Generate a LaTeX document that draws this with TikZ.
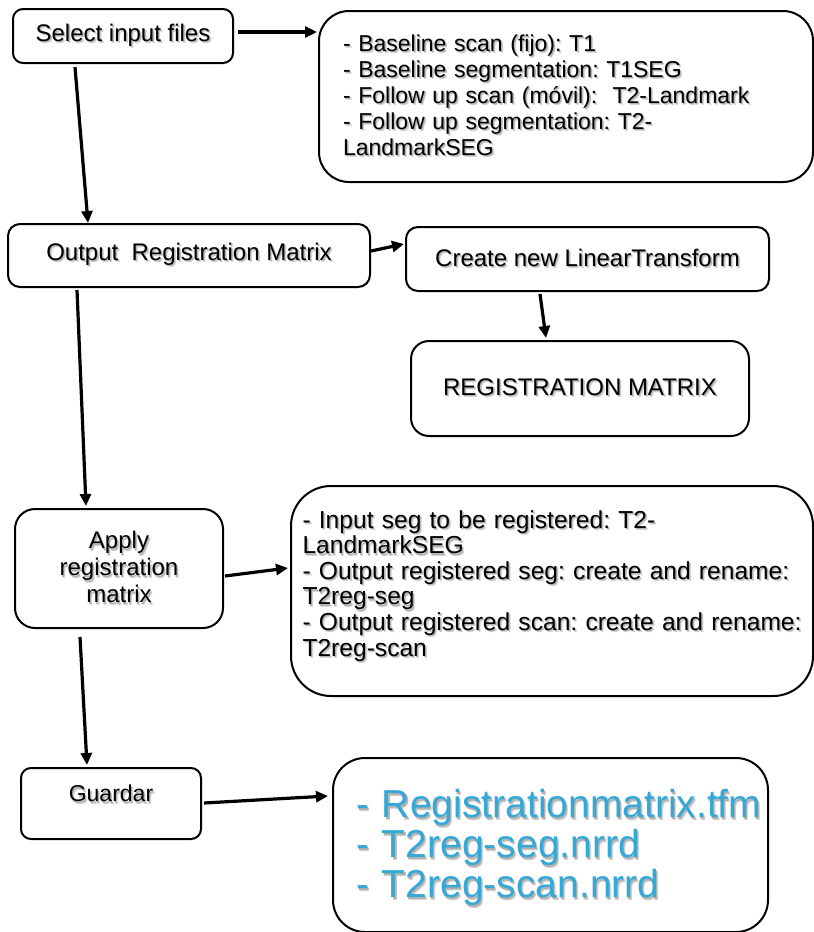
\documentclass[tikz,border=0pt]{standalone}
\usepackage{fontspec}
\setmainfont{Liberation Sans}
\frenchspacing
\usetikzlibrary{arrows.meta,calc}
\definecolor{fileblue}{RGB}{52,168,214}
% one unbreakable line of text with a soft grey drop shadow
\newcommand\shtxt[1]{\mbox{\rlap{\kern2pt\raisebox{-2.4pt}{\color{black!16}#1}}\rlap{\kern1.1pt\raisebox{-1.3pt}{\color{black!30}#1}}#1}}
\begin{document}
\begin{tikzpicture}[x=1pt,y=-1pt,
  box/.style={draw=black,line width=2pt,fill=white,anchor=north west,inner sep=0pt},
  flow/.style={line width=3.2pt,-{Triangle[length=12pt,width=11pt]}},
  label24/.style={font=\fontsize{24}{27}\selectfont},
  big/.style={font=\fontsize{39}{40}\selectfont}]
\useasboundingbox[fill=white] (0,0) rectangle (814,932);

% process boxes
\node[box,rounded corners=10pt,minimum width=220pt,minimum height=54pt,label24] (sel) at (12,8) {\shtxt{Select input files}};
\node[box,rounded corners=30pt,minimum width=494pt,minimum height=171pt,align=left,text width=470pt,font=\fontsize{23}{26}\selectfont] (inputs) at (318,10)
  {\hspace*{12pt}\shtxt{- Baseline scan (fijo): T1}\\
   \hspace*{12pt}\shtxt{- Baseline segmentation: T1SEG}\\
   \hspace*{12pt}\shtxt{- Follow up scan (móvil):\ \ T2-Landmark}\\
   \hspace*{12pt}\shtxt{- Follow up segmentation: T2-}\\
   \hspace*{12pt}\shtxt{LandmarkSEG}};
\node[box,rounded corners=12pt,minimum width=362pt,minimum height=63pt,label24] (out) at (7,223) {\shtxt{Output\ \ Registration Matrix}};
\node[box,rounded corners=12pt,minimum width=363pt,minimum height=64pt,label24] (lin) at (405,226) {\shtxt{Create new LinearTransform}};
\node[box,rounded corners=18pt,minimum width=338pt,minimum height=95pt,label24] (mat) at (410,340) {\shtxt{REGISTRATION MATRIX}};
\node[box,rounded corners=20pt,minimum width=208pt,minimum height=119pt,align=center,label24] (app) at (14,508)
  {\shtxt{Apply}\\ \shtxt{registration}\\ \shtxt{matrix}};
\node[box,rounded corners=40pt,minimum width=522pt,minimum height=210pt,align=left,text width=507pt,font=\fontsize{24.6}{25.6}\selectfont] (reg) at (290,485)
  {\hspace*{4pt}\shtxt{- Input seg to be registered: T2-}\\
   \hspace*{4pt}\shtxt{LandmarkSEG}\\
   \hspace*{4pt}\shtxt{- Output registered seg: create and rename:}\\
   \hspace*{4pt}\shtxt{T2reg-seg}\\
   \hspace*{4pt}\shtxt{- Output registered scan: create and rename:}\\
   \hspace*{4pt}\shtxt{T2reg-scan}\\[-10pt]\mbox{}};
\node[box,rounded corners=10pt,minimum width=180pt,minimum height=71pt,align=center,font=\fontsize{23}{26}\selectfont] (save) at (20,767) {\shtxt{Guardar}\\[-6pt]\mbox{}};
\node[box,rounded corners=32pt,minimum width=435pt,minimum height=174pt,big,align=left,text width=416pt,text=fileblue] (files) at (332,757)
  {\hspace*{13.5pt}\rule{0pt}{36pt}\shtxt{- Registrationmatrix.tfm}\\
   \hspace*{13.5pt}\shtxt{- T2reg-seg.nrrd}\\
   \hspace*{13.5pt}\shtxt{- T2reg-scan.nrrd}};

% connectors
\draw[flow] ($(sel.north east)+(4,24)$) -- ($(inputs.north west)+(-1,22)$);
\draw[flow] ($(sel.south west)+(63,3)$) -- ($(out.north west)+(81,0)$);
\draw[flow] ($(out.north east)+(0,28)$) -- ($(lin.north west)+(-1,18)$);
\draw[flow] ($(lin.south west)+(135,2)$) -- ($(mat.north west)+(136,-2)$);
\draw[flow] ($(out.south west)+(70,2)$) -- ($(app.north west)+(72,-2)$);
\draw[flow] ($(app.north east)+(1,68)$) -- ($(reg.north west)+(-2,83)$);
\draw[flow] ($(app.south west)+(66,8)$) -- ($(save.north west)+(67,-2)$);
\draw[flow] ($(save.north east)+(2,36)$) -- ($(files.north west)+(-4,39)$);
\end{tikzpicture}
\end{document}
